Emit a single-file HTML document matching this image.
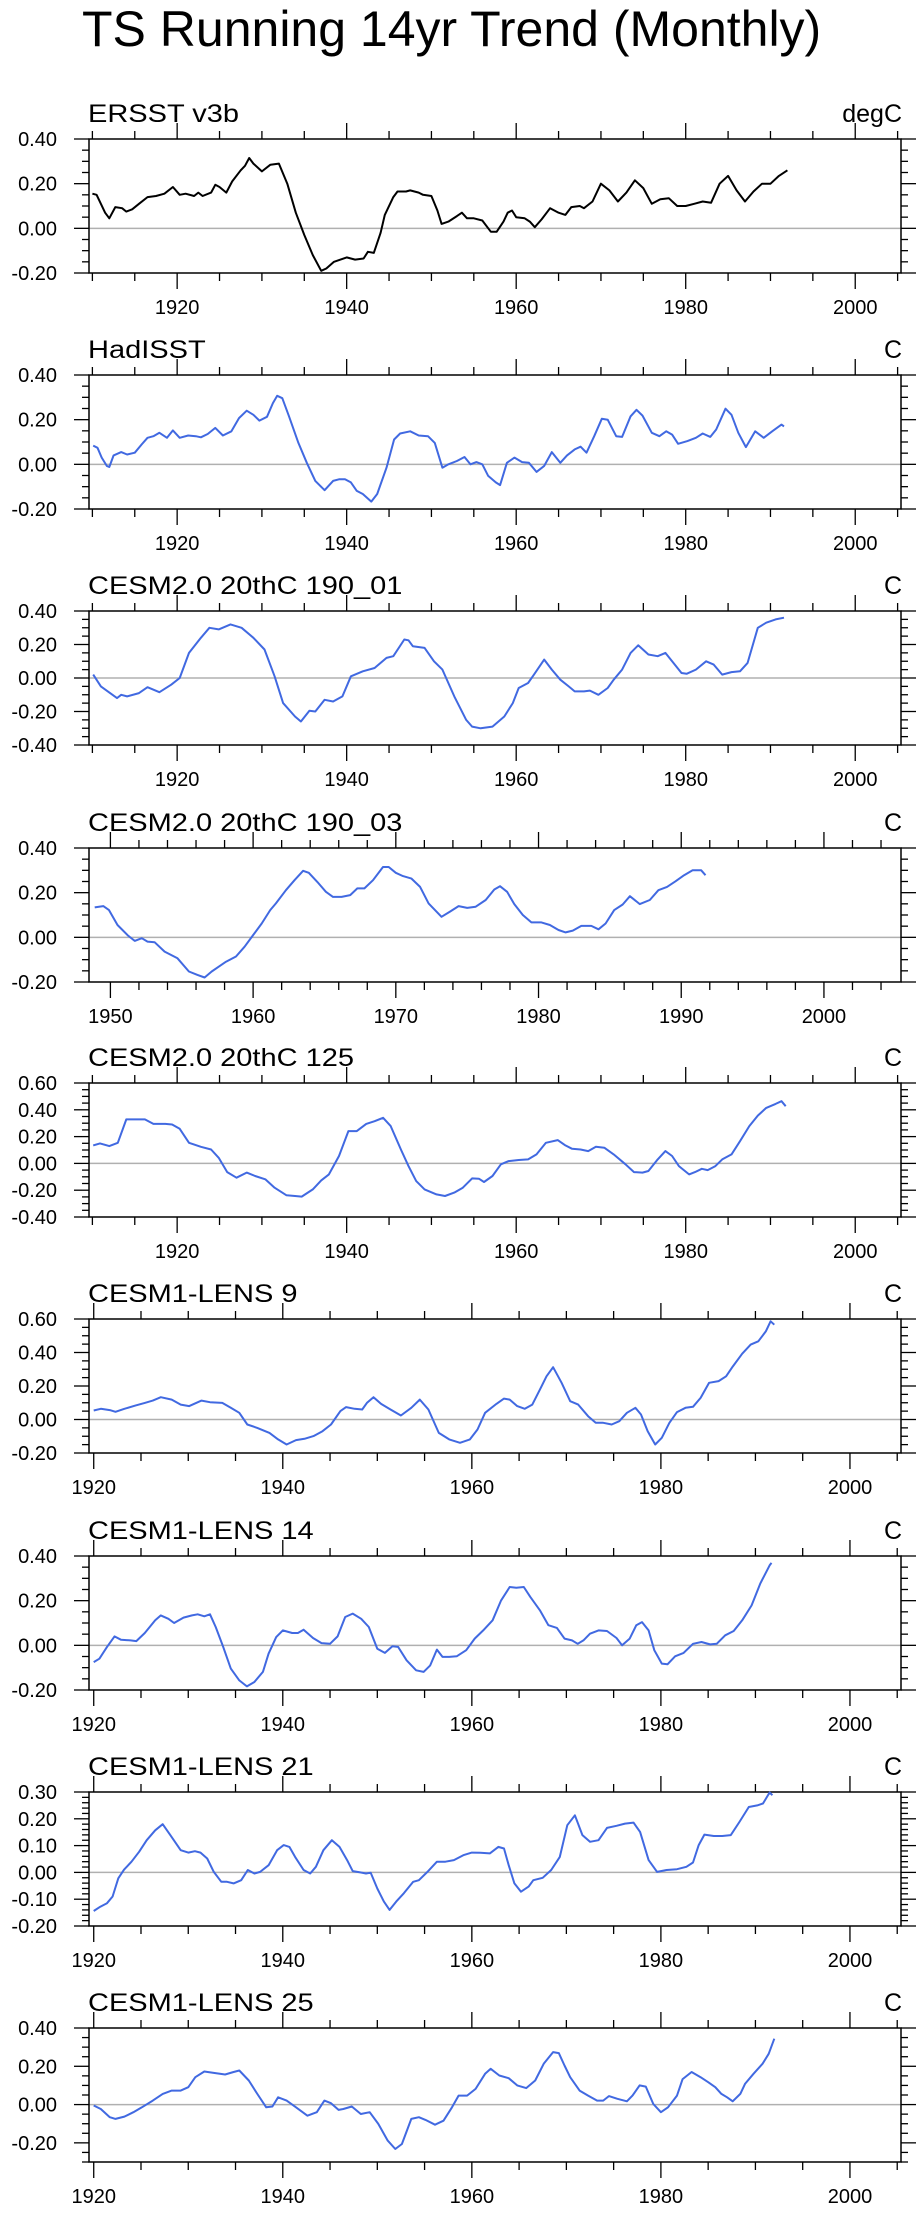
<!DOCTYPE html>
<html><head><meta charset="utf-8">
<style>
html,body{margin:0;padding:0;background:#fff;}
svg{display:block;font-family:"Liberation Sans",Arial,sans-serif;}
</style></head>
<body>
<svg id="chart" width="922" height="2219" viewBox="0 0 922 2219" xmlns="http://www.w3.org/2000/svg">
<rect x="0" y="0" width="922" height="2219" fill="#fff"/>
<text id="mainTitle" x="82" y="46" font-size="50" fill="#000">TS Running 14yr Trend (Monthly)</text>
</svg>
<script>
// ---- data (year / value arrays per panel) ----
const titles = ["ERSST v3b","HadISST","CESM2.0 20thC 190_01","CESM2.0 20thC 190_03","CESM2.0 20thC 125","CESM1-LENS 9","CESM1-LENS 14","CESM1-LENS 21","CESM1-LENS 25"];
const units = ["degC","C","C","C","C","C","C","C","C"];

const ersstYears = [1910,1910.5,1911.5,1912,1912.7,1913.5,1914,1914.7,1915.5,1916.5,1917.5,1918.5,1919.5,1920.3,1921,1922,1922.5,1923,1924,1924.5,1925,1925.8,1926.5,1927.5,1928,1928.5,1929,1930,1931,1932,1933,1934,1935,1936,1937,1937.6,1938.5,1940,1941,1942,1942.5,1943.2,1944,1944.5,1945.5,1946,1947,1947.5,1948.5,1949,1950,1950.7,1951.2,1952,1953,1953.6,1954.2,1955,1956,1957,1957.7,1958.5,1959,1959.5,1960,1961,1961.6,1962.2,1963,1964,1965,1965.8,1966.5,1967.5,1968,1969,1970,1971,1972,1973,1974,1975,1976,1977,1978,1979,1980,1981,1982,1983,1984,1985,1986,1987,1988,1989,1990,1991,1992];
const ersstValues = [0.155,0.15,0.07,0.045,0.095,0.09,0.075,0.085,0.11,0.14,0.145,0.155,0.185,0.15,0.155,0.145,0.16,0.145,0.16,0.195,0.185,0.16,0.21,0.26,0.28,0.315,0.29,0.255,0.285,0.29,0.2,0.07,-0.03,-0.12,-0.19,-0.18,-0.15,-0.13,-0.14,-0.135,-0.105,-0.11,-0.02,0.06,0.14,0.165,0.165,0.17,0.16,0.15,0.145,0.08,0.02,0.03,0.055,0.07,0.045,0.045,0.035,-0.015,-0.015,0.03,0.07,0.08,0.05,0.045,0.03,0.005,0.04,0.09,0.07,0.06,0.095,0.1,0.09,0.12,0.2,0.17,0.12,0.16,0.215,0.18,0.11,0.13,0.135,0.1,0.1,0.11,0.12,0.115,0.2,0.235,0.17,0.12,0.165,0.2,0.2,0.235,0.26];

const hadYears = [1910.1,1910.6,1911.1,1911.7,1912,1912.5,1913.4,1914.1,1915,1915.8,1916.5,1917.2,1917.9,1918.8,1919.5,1920.3,1921.3,1922.2,1922.8,1923.6,1924.5,1925.4,1926.4,1927.3,1928.2,1929,1929.7,1930.6,1931.3,1931.8,1932.4,1933.2,1934.3,1935.3,1936.3,1937.4,1938.4,1939.1,1939.8,1940.5,1941.2,1941.9,1942.9,1943.6,1944.7,1945.6,1946.3,1947.5,1948.5,1949.6,1950.4,1951.3,1952,1953,1953.9,1954.6,1955.3,1956,1956.7,1957.6,1958.1,1958.9,1959.8,1960.7,1961.5,1962.4,1963.3,1964.2,1965.2,1966,1966.9,1967.6,1968.3,1969.2,1970.1,1970.8,1971.8,1972.5,1973.5,1974.2,1974.9,1976,1976.9,1977.7,1978.4,1979.1,1980.2,1981.2,1982,1982.9,1983.6,1984.7,1985.4,1986.2,1987.1,1988.2,1989.2,1990.2,1991.3,1991.6];
const hadValues = [0.084,0.074,0.03,-0.007,-0.012,0.04,0.055,0.044,0.052,0.089,0.119,0.126,0.141,0.119,0.152,0.119,0.129,0.126,0.121,0.136,0.163,0.129,0.148,0.207,0.24,0.222,0.196,0.213,0.274,0.307,0.296,0.215,0.096,0.007,-0.074,-0.116,-0.074,-0.067,-0.067,-0.081,-0.119,-0.133,-0.167,-0.133,-0.015,0.111,0.138,0.148,0.129,0.126,0.096,-0.015,0,0.015,0.033,0,0.01,0,-0.052,-0.081,-0.093,0.007,0.03,0.01,0.007,-0.034,-0.007,0.055,0.007,0.04,0.067,0.079,0.052,0.126,0.204,0.2,0.126,0.123,0.215,0.244,0.218,0.141,0.126,0.148,0.133,0.092,0.104,0.119,0.138,0.123,0.156,0.249,0.222,0.141,0.077,0.148,0.119,0.148,0.178,0.17];

const c01Years = [1910.1,1911,1912.9,1913.4,1914.1,1915.5,1916.5,1917.9,1919.3,1920.3,1921.4,1922.8,1923.8,1924.9,1926.3,1927.6,1929,1930.3,1931.5,1932.5,1933.9,1934.6,1935.6,1936.3,1937.4,1938.4,1939.5,1940.5,1941.9,1943.3,1944.7,1945.5,1946.8,1947.3,1947.8,1949.2,1950.3,1951.3,1952.7,1954.1,1954.8,1955.8,1957.2,1958.6,1959.6,1960.3,1961.4,1962.1,1963.3,1964.2,1965.2,1966.2,1966.9,1968,1968.7,1969.7,1970.8,1971.5,1972.5,1973.5,1974.4,1975.6,1976.7,1977.6,1978.4,1979.5,1980.1,1981.2,1982.4,1983.3,1984.3,1985.4,1986.4,1987.3,1988.5,1989.5,1990.6,1991.6];
const c01Values = [0.02,-0.05,-0.12,-0.1,-0.11,-0.09,-0.055,-0.085,-0.04,0,0.15,0.24,0.3,0.29,0.32,0.3,0.24,0.17,0.01,-0.15,-0.23,-0.26,-0.195,-0.2,-0.13,-0.14,-0.11,0.01,0.04,0.06,0.12,0.13,0.23,0.225,0.19,0.18,0.1,0.05,-0.11,-0.25,-0.29,-0.3,-0.29,-0.23,-0.15,-0.06,-0.03,0.02,0.11,0.05,-0.01,-0.05,-0.08,-0.08,-0.075,-0.1,-0.06,-0.01,0.05,0.15,0.195,0.14,0.13,0.15,0.1,0.03,0.025,0.05,0.1,0.08,0.02,0.035,0.04,0.09,0.3,0.33,0.35,0.36];

const c03Years = [1948.9,1949.5,1949.9,1950.5,1951.2,1951.7,1952.2,1952.6,1953.1,1953.8,1954.7,1955.5,1956.1,1956.6,1957.1,1957.6,1958.1,1958.8,1959.4,1960,1960.6,1961.2,1961.6,1962.3,1962.9,1963.5,1963.9,1964.5,1965.1,1965.6,1966.2,1966.8,1967.3,1967.8,1968.4,1969.1,1969.5,1970,1970.5,1971.1,1971.7,1972.3,1973.2,1973.8,1974.4,1975,1975.6,1976.3,1976.9,1977.3,1977.8,1978.3,1978.9,1979.5,1980.2,1980.8,1981.4,1981.9,1982.4,1983,1983.7,1984.2,1984.7,1985.3,1985.9,1986.4,1987.1,1987.8,1988.4,1989,1989.6,1990.2,1990.8,1991.4,1991.7];
const c03Values = [0.134,0.14,0.122,0.055,0.01,-0.016,-0.004,-0.019,-0.022,-0.064,-0.094,-0.153,-0.168,-0.18,-0.153,-0.131,-0.109,-0.086,-0.042,0.01,0.062,0.122,0.152,0.211,0.256,0.298,0.289,0.248,0.204,0.181,0.181,0.189,0.219,0.219,0.256,0.315,0.315,0.289,0.274,0.263,0.226,0.152,0.092,0.115,0.14,0.132,0.137,0.167,0.214,0.229,0.204,0.149,0.1,0.067,0.067,0.055,0.033,0.022,0.03,0.051,0.051,0.036,0.062,0.122,0.147,0.184,0.149,0.167,0.211,0.226,0.251,0.278,0.3,0.3,0.278];

const c125Years = [1910.1,1910.9,1912,1913,1914,1915.1,1916.2,1917.2,1918.6,1919.4,1920.3,1921.4,1922.8,1924,1924.9,1925.9,1927,1928.2,1929.2,1930.4,1931.5,1932.9,1933.9,1934.7,1936,1937,1937.9,1939.1,1940.2,1941.2,1942.3,1943.3,1944.3,1945.2,1946.4,1947.3,1948.2,1949.2,1950.6,1951.6,1952.7,1953.7,1954.8,1955.6,1956.2,1957.2,1958.2,1959.1,1960.3,1961.4,1962.4,1963.5,1964.9,1965.8,1966.6,1967.6,1968.5,1969.4,1970.4,1971.5,1972.9,1973.9,1974.9,1975.6,1976.7,1977.6,1978.4,1979.2,1980.4,1981.1,1981.9,1982.6,1983.5,1984.3,1985.4,1986.4,1987.5,1988.5,1989.5,1990.6,1991.3,1991.8];
const c125Values = [0.134,0.149,0.129,0.154,0.328,0.328,0.328,0.295,0.295,0.29,0.258,0.154,0.124,0.104,0.042,-0.065,-0.107,-0.069,-0.094,-0.119,-0.181,-0.238,-0.243,-0.248,-0.194,-0.127,-0.082,0.055,0.241,0.241,0.295,0.315,0.34,0.278,0.104,-0.02,-0.132,-0.194,-0.231,-0.243,-0.218,-0.181,-0.112,-0.114,-0.139,-0.094,-0.007,0.017,0.025,0.03,0.067,0.154,0.174,0.134,0.109,0.104,0.092,0.124,0.117,0.067,-0.007,-0.065,-0.069,-0.057,0.03,0.092,0.055,-0.02,-0.082,-0.065,-0.04,-0.05,-0.02,0.03,0.067,0.166,0.278,0.357,0.414,0.444,0.464,0.427];

const l9Years = [1920,1920.75,1921.7,1922.3,1923.25,1924.4,1925.4,1926.25,1927.1,1928.25,1929.2,1930.1,1931.4,1932.3,1933.6,1934.5,1935.4,1936.25,1937.3,1938.6,1939.5,1940.4,1941.4,1942.3,1943.25,1944.2,1945.1,1946.1,1946.7,1947.6,1948.4,1948.9,1949.6,1950.4,1951.4,1952.5,1953.6,1954.5,1955.4,1956.5,1957.6,1958.75,1959.8,1960.6,1961.4,1962.6,1963.4,1964,1964.8,1965.6,1966.4,1967.3,1967.9,1968.6,1969.5,1970.4,1971.25,1972.3,1973.1,1973.9,1974.8,1975.6,1976.4,1977.3,1977.9,1978.6,1979.4,1980.1,1980.9,1981.7,1982.6,1983.4,1984.2,1985.1,1986.1,1986.9,1987.6,1988.6,1989.5,1990.3,1991.1,1991.6,1992];
const l9Values = [0.054,0.064,0.056,0.046,0.064,0.083,0.099,0.113,0.133,0.119,0.089,0.08,0.113,0.103,0.099,0.07,0.04,-0.03,-0.05,-0.08,-0.119,-0.149,-0.123,-0.115,-0.099,-0.07,-0.03,0.05,0.074,0.064,0.06,0.099,0.133,0.093,0.06,0.024,0.07,0.119,0.06,-0.08,-0.119,-0.139,-0.119,-0.06,0.04,0.093,0.125,0.119,0.08,0.064,0.089,0.189,0.258,0.312,0.219,0.109,0.089,0.02,-0.02,-0.02,-0.03,-0.01,0.04,0.07,0.03,-0.07,-0.149,-0.109,-0.02,0.044,0.07,0.076,0.129,0.219,0.229,0.258,0.316,0.393,0.447,0.467,0.526,0.586,0.566];

const l14Years = [1920,1920.6,1921.4,1922.2,1922.9,1923.9,1924.5,1925.4,1926.5,1927.1,1927.9,1928.5,1929.5,1930.4,1931,1931.7,1932.3,1932.9,1933.7,1934.5,1935.4,1936.2,1937,1937.9,1938.5,1939.3,1940,1941,1941.6,1942.2,1943.2,1944.1,1945,1945.8,1946.6,1947.4,1948.3,1949.1,1950,1950.8,1951.6,1952.2,1953.1,1954.1,1954.9,1955.6,1956.3,1956.9,1957.6,1958.4,1959.4,1960.3,1961.2,1962.2,1963.1,1964,1964.7,1965.5,1966.2,1967.2,1968.1,1969,1969.8,1970.6,1971.2,1971.8,1972.5,1973.4,1974.3,1975.3,1975.9,1976.7,1977.4,1978,1978.7,1979.3,1980.1,1980.7,1981.5,1982.4,1983.4,1984.3,1985.2,1985.9,1986.8,1987.7,1988.6,1989.6,1990.5,1991.5,1991.7];
const l14Values = [-0.075,-0.06,-0.007,0.04,0.025,0.022,0.019,0.055,0.112,0.134,0.119,0.1,0.124,0.134,0.139,0.13,0.139,0.082,-0.007,-0.104,-0.157,-0.184,-0.164,-0.119,-0.037,0.037,0.067,0.055,0.055,0.07,0.033,0.01,0.007,0.04,0.127,0.142,0.119,0.082,-0.015,-0.034,-0.004,-0.007,-0.067,-0.112,-0.119,-0.09,-0.019,-0.052,-0.052,-0.049,-0.022,0.03,0.067,0.112,0.201,0.261,0.258,0.261,0.216,0.157,0.09,0.078,0.03,0.022,0.007,0.022,0.052,0.067,0.064,0.033,0,0.03,0.09,0.104,0.067,-0.022,-0.082,-0.085,-0.049,-0.034,0.007,0.015,0.004,0.007,0.045,0.064,0.112,0.179,0.276,0.358,0.369];

const l21Years = [1920,1920.7,1921.4,1922,1922.6,1923.2,1924,1924.8,1925.6,1926.5,1927.3,1928.1,1929.2,1930,1930.7,1931.3,1932,1932.7,1933.5,1934.1,1934.8,1935.6,1936.3,1937,1937.6,1938.5,1939.4,1940.1,1940.7,1941.3,1942.2,1942.9,1943.5,1944.3,1945.2,1946,1946.8,1947.4,1948.2,1948.8,1949.3,1950,1950.7,1951.3,1952,1952.8,1953.8,1954.4,1955.3,1956.3,1957.2,1958.1,1959.1,1960,1960.9,1961.9,1962.8,1963.4,1963.9,1964.5,1965.2,1966,1966.5,1967.5,1968.4,1969.3,1970.1,1970.9,1971.7,1972.5,1973.4,1974.3,1975.3,1976.2,1977.1,1977.8,1978.7,1979.6,1980.6,1981.7,1982.7,1983.4,1984,1984.6,1985.6,1986.5,1987.4,1988.3,1989.3,1990.2,1990.8,1991.5,1991.8];
const l21Values = [-0.144,-0.128,-0.115,-0.09,-0.022,0.01,0.04,0.077,0.12,0.157,0.18,0.139,0.083,0.074,0.079,0.074,0.052,0.002,-0.035,-0.035,-0.041,-0.029,0.009,-0.004,0.002,0.027,0.083,0.102,0.095,0.058,0.009,-0.004,0.021,0.083,0.12,0.095,0.046,0.005,0,-0.004,-0.001,-0.06,-0.109,-0.14,-0.109,-0.078,-0.035,-0.029,0.002,0.04,0.04,0.046,0.064,0.074,0.073,0.071,0.095,0.089,0.027,-0.041,-0.072,-0.053,-0.029,-0.02,0.009,0.058,0.176,0.213,0.139,0.114,0.12,0.166,0.174,0.182,0.186,0.151,0.046,0.002,0.009,0.012,0.021,0.037,0.102,0.141,0.136,0.136,0.139,0.188,0.244,0.25,0.257,0.298,0.288];

const l25Years = [1920,1920.75,1921.7,1922.3,1923.25,1924.2,1925.1,1926.25,1927.3,1928.25,1929.2,1930,1930.75,1931.7,1932.6,1933.9,1934.8,1935.4,1936.4,1937.3,1938.25,1938.9,1939.5,1940.4,1941.4,1942.6,1943.6,1944.4,1945.1,1945.9,1946.4,1947.3,1948.25,1949.2,1950.1,1951.1,1951.9,1952.6,1953.6,1954.4,1955.1,1956.1,1957,1957.9,1958.6,1959.5,1960.4,1961.4,1962,1962.9,1963.9,1964.8,1965.75,1966.7,1967.6,1968.6,1969.2,1969.8,1970.4,1971.4,1972.3,1973.25,1973.9,1974.5,1975.4,1976.4,1977,1977.75,1978.4,1979.2,1980,1980.75,1981.7,1982.3,1983.25,1984.2,1985,1985.75,1986.4,1987,1987.6,1988.4,1988.9,1989.8,1990.75,1991.4,1992];
const l25Values = [-0.005,-0.023,-0.066,-0.075,-0.063,-0.04,-0.014,0.021,0.056,0.073,0.073,0.091,0.143,0.173,0.166,0.157,0.17,0.178,0.126,0.056,-0.014,-0.01,0.038,0.021,-0.014,-0.058,-0.04,0.021,0.007,-0.028,-0.023,-0.01,-0.049,-0.04,-0.101,-0.188,-0.232,-0.206,-0.075,-0.066,-0.08,-0.105,-0.084,-0.014,0.047,0.047,0.082,0.161,0.187,0.152,0.138,0.1,0.086,0.126,0.213,0.274,0.269,0.204,0.143,0.073,0.047,0.021,0.021,0.044,0.03,0.017,0.047,0.1,0.094,0.003,-0.04,-0.014,0.047,0.133,0.17,0.143,0.117,0.091,0.056,0.038,0.017,0.056,0.108,0.161,0.213,0.265,0.344];

// ---- layout config ----
const X0 = 89, X1 = 901, H = 134;
const tops = [139,375,611,848,1083,1319,1556,1792,2028];
const panels = [
 {ys:ersstYears, vs:ersstValues, color:"#000", xmin:1909.6, xmaj:20, xmin2:5, ymin:-0.2, ymax:0.4, ymaj:0.2, yminor:0.05},
 {ys:hadYears, vs:hadValues, color:"#4169e1", xmin:1909.6, xmaj:20, xmin2:5, ymin:-0.2, ymax:0.4, ymaj:0.2, yminor:0.05},
 {ys:c01Years, vs:c01Values, color:"#4169e1", xmin:1909.6, xmaj:20, xmin2:5, ymin:-0.4, ymax:0.4, ymaj:0.2, yminor:0.05},
 {ys:c03Years, vs:c03Values, color:"#4169e1", xmin:1948.5, xmaj:10, xmin2:2, ymin:-0.2, ymax:0.4, ymaj:0.2, yminor:0.05},
 {ys:c125Years, vs:c125Values, color:"#4169e1", xmin:1909.6, xmaj:20, xmin2:5, ymin:-0.4, ymax:0.6, ymaj:0.2, yminor:0.05},
 {ys:l9Years, vs:l9Values, color:"#4169e1", xmin:1919.5, xmaj:20, xmin2:5, ymin:-0.2, ymax:0.6, ymaj:0.2, yminor:0.05},
 {ys:l14Years, vs:l14Values, color:"#4169e1", xmin:1919.5, xmaj:20, xmin2:5, ymin:-0.2, ymax:0.4, ymaj:0.2, yminor:0.05},
 {ys:l21Years, vs:l21Values, color:"#4169e1", xmin:1919.5, xmaj:20, xmin2:5, ymin:-0.2, ymax:0.3, ymaj:0.1, yminor:0.02},
 {ys:l25Years, vs:l25Values, color:"#4169e1", xmin:1919.5, xmaj:20, xmin2:5, ymin:-0.3, ymax:0.4, ymaj:0.2, yminor:0.05}
];
const XMAX = 2005.4;
const NS = "http://www.w3.org/2000/svg";
const svg = document.getElementById("chart");
function mk(tag, attrs, parent){
  const e = document.createElementNS(NS, tag);
  for (const k in attrs) e.setAttribute(k, attrs[k]);
  (parent||svg).appendChild(e);
  return e;
}
function stretch(t, f){ const w = t.getComputedTextLength(); t.setAttribute("textLength", (w*f).toFixed(1)); t.setAttribute("lengthAdjust","spacingAndGlyphs"); }

panels.forEach((p, i) => {
  const top = tops[i], bot = top + H;
  const g = mk("g", {});
  
  
  const xs = yr => X0 + (yr - p.xmin) / (XMAX - p.xmin) * (X1 - X0);
  const ys = v => bot - (v - p.ymin) / (p.ymax - p.ymin) * H;

  const t = mk("text", {x:X0-1, y:top-17, "font-size":25, fill:"#000"}, g);
  t.textContent = titles[i];
  
  
  stretch(t, 1.16);
  const u = mk("text", {x:X1+1, y:top-17, "font-size":25, fill:"#000", "text-anchor":"end"}, g);
  u.textContent = units[i];
  
  

  const z = mk("line", {x1:X0, x2:X1, y1:ys(0), y2:ys(0), stroke:"#b0b0b0", "stroke-width":1.5}, g);
  
  

  const ax = mk("g", {stroke:"#000", "stroke-width":1.3}, g);
  
  
  const start = Math.ceil(p.xmin / p.xmin2) * p.xmin2;
  for (let yr = start; yr <= XMAX + 1e-6; yr += p.xmin2) {
    const major = Math.abs(yr / p.xmaj - Math.round(yr / p.xmaj)) < 1e-6;
    const L = major ? 16 : 8, x = xs(yr);
    mk("line", {x1:x, x2:x, y1:top, y2:top-L}, ax);
    mk("line", {x1:x, x2:x, y1:bot, y2:bot+L}, ax);
    if (major) {
      const lb = mk("text", {x:x, y:bot+41, "font-size":20, "text-anchor":"middle", stroke:"none", fill:"#000"}, g);
      lb.textContent = String(yr);
      
      
    }
  }
  const ay = mk("g", {stroke:"#000", "stroke-width":1.3}, g);
  
  
  const n = Math.round((p.ymax - p.ymin) / p.yminor);
  for (let k = 0; k <= n; k++) {
    const v = p.ymin + k * p.yminor;
    const major = Math.abs(v / p.ymaj - Math.round(v / p.ymaj)) < 1e-6;
    const L = major ? 15 : 7, y = ys(v);
    mk("line", {x1:X0, x2:X0-L, y1:y, y2:y}, ay);
    mk("line", {x1:X1, x2:X1+L, y1:y, y2:y}, ay);
  }
  const k0 = Math.ceil(p.ymin / p.ymaj - 1e-6), k1 = Math.floor(p.ymax / p.ymaj + 1e-6);
  for (let k = k0; k <= k1; k++) {
    const v = k * p.ymaj;
    const lb = mk("text", {x:57, y:ys(v)+7, "font-size":20, "text-anchor":"end", fill:"#000"}, g);
    lb.textContent = (Math.abs(v) < 1e-9 ? 0 : v).toFixed(2);
    
    
  }
  const fr = mk("rect", {x:X0, y:top, width:X1-X0, height:H, fill:"none", stroke:"#000", "stroke-width":1.5}, g);
  
  
  let d = "";
  p.ys.forEach((yr, j) => { d += (j ? "L" : "M") + xs(yr).toFixed(1) + "," + ys(p.vs[j]).toFixed(1); });
  const path = mk("path", {d:d, fill:"none", stroke:p.color, "stroke-width":2, "stroke-linejoin":"round"}, g);
  
  
});
</script>
</body></html>
